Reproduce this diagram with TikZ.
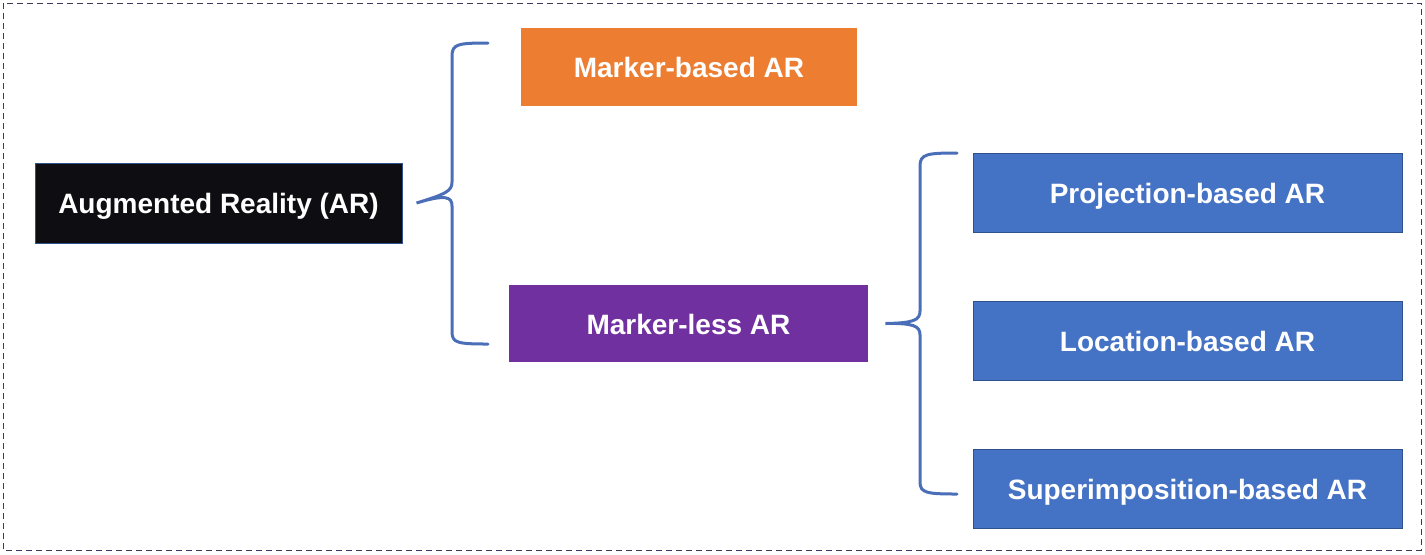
\documentclass[tikz,border=0pt]{standalone}
\usepackage{fontspec}
\setmainfont{Liberation Sans}
\usetikzlibrary{positioning}

\definecolor{arblack}{HTML}{0E0D12}
\definecolor{arorange}{HTML}{ED7D31}
\definecolor{arpurple}{HTML}{7030A0}
\definecolor{arblue}{HTML}{4472C4}
\definecolor{arblueline}{HTML}{2F528F}
\definecolor{arbrace}{HTML}{4A6FB8}
\definecolor{arframe}{HTML}{3A3A5C}

\tikzset{
    box/.style={rectangle, text=white, font=\bfseries\fontsize{14}{16}\selectfont,
        inner sep=0pt, text height=10.5pt, text depth=0pt},
    brace/.style={draw=arbrace, line width=1.5pt, line cap=round},
}

\begin{document}
\begin{tikzpicture}[x=0.5pt,y=-0.5pt]
    \useasboundingbox (0,0) rectangle (1425,554);
    \draw[arframe, dashed, dash pattern=on 3pt off 2pt, line width=0.5pt]
        (3,3) rectangle (1421,550);

    \node[box, fill=arblack, draw=arblueline, line width=0.5pt,
        minimum width=183.5pt, minimum height=40pt] (ar) at (218.5,203) {Augmented Reality (AR)};
    \node[box, fill=arorange, minimum width=168pt, minimum height=39pt]
        (markerbased) at (689,67) {Marker-based AR};
    \node[box, fill=arpurple, minimum width=179.5pt, minimum height=38.5pt]
        (markerless) at (688.5,323.5) {Marker-less AR};
    \node[box, fill=arblue, draw=arblueline, line width=0.5pt,
        minimum width=214.5pt, minimum height=39.5pt] (projection) at (1187.5,192.5) {Projection-based AR};
    \node[box, fill=arblue, draw=arblueline, line width=0.5pt,
        minimum width=214.5pt, minimum height=39.5pt] (location) at (1187.5,340.5) {Location-based AR};
    \node[box, fill=arblue, draw=arblueline, line width=0.5pt,
        minimum width=214.5pt, minimum height=39.5pt] (superimposition) at (1187.5,488.5) {Superimposition-based AR};

    % brace ends
    \coordinate (tipA) at ([xshift=7pt]ar.east);
    \coordinate (topA) at (488,43);
    \coordinate (botA) at (488,344);
    \coordinate (tipB) at ([xshift=8.5pt]markerless.east);
    \coordinate (topB) at (957,153);
    \coordinate (botB) at (957,494);

    \draw[brace] (topA) .. controls (458,43) and (452,44) .. (452,56) -- (452,182)
        .. controls (452,191) and (446,194) .. (tipA)
        .. controls (446,194) and (452,197) .. (452,206) -- (452,332)
        .. controls (452,343) and (458,344) .. (botA);
    \draw[brace] (topB) .. controls (927,153) and (920,154) .. (920,166) -- (920,311)
        .. controls (920,320) and (914,323) .. (tipB)
        .. controls (914,323) and (920,326) .. (920,335) -- (920,482)
        .. controls (920,493) and (927,494) .. (botB);
\end{tikzpicture}
\end{document}
